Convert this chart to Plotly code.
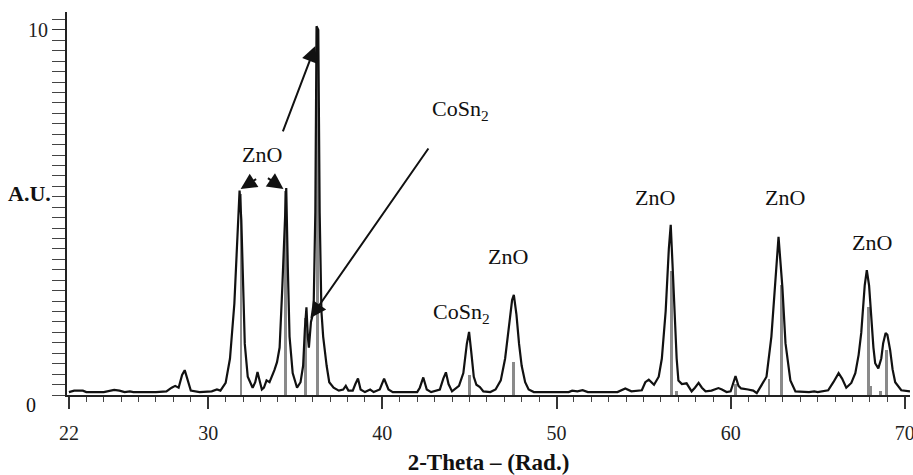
import plotly.graph_objects as go

# ---- data ----
two_theta = [22.0, 22.3, 22.8, 23.0, 24.0, 24.6, 24.9, 25.2, 25.5, 25.7, 27.0, 27.6, 27.9, 28.1, 28.3,
             28.5, 28.65, 28.8, 29.0, 29.5, 30.2, 30.5, 30.7, 31.0, 31.25, 31.5, 31.7, 31.8, 31.9, 32.0,
             32.1, 32.27, 32.55, 32.7, 32.83, 32.95, 33.08, 33.2, 33.35, 33.52, 33.65, 33.8, 33.95, 34.1,
             34.25, 34.4, 34.48, 34.57, 34.67, 34.85, 35.1, 35.3, 35.45, 35.55, 35.64, 35.72, 35.78, 35.9,
             36.05, 36.15, 36.22, 36.32, 36.4, 36.5, 36.6, 36.8, 36.95, 37.2, 37.5, 37.75, 37.9, 38.05,
             38.3, 38.45, 38.6, 38.75, 39.0, 39.3, 39.5, 39.85, 40.1, 40.35, 40.6, 42.0, 42.15, 42.35,
             42.55, 42.8, 43.3, 43.5, 43.65, 43.8, 44.0, 44.4, 44.65, 44.85, 44.98, 45.1, 45.25, 45.4,
             45.6, 45.8, 46.2, 46.5, 46.8, 47.05, 47.25, 47.45, 47.55, 47.7, 47.85, 48.0, 48.2, 48.4,
             48.7, 50.7, 50.9, 51.2, 51.5, 51.8, 53.5, 53.95, 54.3, 54.9, 55.1, 55.3, 55.6, 55.87, 56.05,
             56.27, 56.45, 56.56, 56.66, 56.78, 56.9, 57.0, 57.2, 57.47, 57.76, 57.95, 58.16, 58.35,
             58.56, 58.9, 59.3, 59.5, 59.77, 60.0, 60.15, 60.28, 60.45, 60.6, 61.0, 61.3, 61.5, 61.77,
             62.06, 62.34, 62.57, 62.75, 62.97, 63.15, 63.43, 63.72, 64.5, 64.8, 65.0, 65.6, 65.9, 66.2,
             66.4, 66.64, 66.93, 67.16, 67.35, 67.5, 67.7, 67.82, 67.95, 68.07, 68.2, 68.3, 68.48,
             68.65, 68.76, 68.9, 69.0, 69.16, 69.3, 69.45, 69.8, 70.3]
intensity = [0.08, 0.12, 0.12, 0.08, 0.08, 0.14, 0.12, 0.08, 0.1, 0.08, 0.08, 0.1, 0.2, 0.25, 0.2,
             0.55, 0.68, 0.45, 0.12, 0.08, 0.1, 0.15, 0.12, 0.33, 1.0, 2.5, 4.8, 5.6, 4.8, 3.0,
             1.4, 0.5, 0.2, 0.35, 0.63, 0.4, 0.15, 0.2, 0.4, 0.35, 0.5, 0.68, 0.9, 1.3,
             2.9, 5.0, 5.67, 3.5, 1.6, 0.6, 0.2, 0.35, 0.8, 1.8, 2.4, 1.6, 1.3, 2.0,
             2.3, 5.0, 10.1, 10.0, 5.0, 2.3, 1.6, 0.8, 0.35, 0.2, 0.12, 0.15, 0.25, 0.12,
             0.12, 0.3, 0.45, 0.15, 0.08, 0.15, 0.08, 0.15, 0.45, 0.15, 0.08, 0.08, 0.2, 0.48,
             0.15, 0.08, 0.15, 0.45, 0.62, 0.3, 0.1, 0.25, 0.6, 1.4, 1.73, 1.2, 0.5, 0.28,
             0.22, 0.1, 0.08, 0.15, 0.4, 1.0, 1.8, 2.6, 2.74, 2.2, 1.4, 0.8, 0.35, 0.15,
             0.08, 0.08, 0.12, 0.1, 0.13, 0.08, 0.08, 0.18, 0.1, 0.13, 0.35, 0.42, 0.28, 0.5, 1.0,
             2.3, 4.0, 4.66, 3.6, 2.3, 1.0, 0.4, 0.3, 0.32, 0.1, 0.2, 0.33, 0.2,
             0.1, 0.12, 0.19, 0.15, 0.08, 0.1, 0.3, 0.52, 0.25, 0.18, 0.15, 0.12, 0.05, 0.27,
             0.5, 1.6, 3.2, 4.33, 2.96, 1.42, 0.4, 0.1, 0.08, 0.1, 0.08, 0.13, 0.35, 0.6,
             0.45, 0.2, 0.33, 0.6, 1.1, 1.7, 3.0, 3.42, 3.0, 2.15, 1.3, 0.87, 0.73,
             1.0, 1.42, 1.7, 1.65, 1.23, 0.7, 0.35, 0.13, 0.1]

# reference pattern sticks
stick_pos = [31.88, 34.45, 35.6, 36.28, 45.0, 47.55, 56.62, 56.9, 60.3, 62.2, 62.9, 67.93, 68.05, 68.6, 68.97]
stick_h = [5.5, 5.6, 2.1, 10.0, 0.55, 0.9, 3.4, 0.1, 0.3, 0.45, 3.0, 2.4, 0.25, 0.1, 1.23]

x_ticks = [22, 30, 40, 50, 60, 70]
x_mid_ticks = [25, 35, 45, 55, 65]

# phase labels: (text, x, y)
labels = [("ZnO", 33.06, 6.58), ("CoSn<sub>2</sub>", 44.46, 7.81), ("CoSn<sub>2</sub>", 44.52, 2.25),
          ("ZnO", 47.22, 3.78), ("ZnO", 55.64, 5.40), ("ZnO", 63.15, 5.40), ("ZnO", 68.13, 4.19)]
# arrows: tip x, tip y, tail offset px (ax, ay)
arrows = [(31.86, 5.64, 17, -11), (34.32, 5.64, -17, -12), (36.15, 9.56, -33, 87), (35.87, 2.11, 119, -171)]

FONT = "Liberation Serif, Times New Roman, serif"
XR = [21.89, 70.3]

fig = go.Figure()
fig.add_trace(go.Bar(x=stick_pos, y=stick_h, width=0.16, marker=dict(color="#8a8a8a", line=dict(width=0)),
                     showlegend=False))
fig.add_trace(go.Scatter(x=two_theta, y=intensity, mode="lines", line=dict(color="#111111", width=2.2),
                         showlegend=False))

for t, x, y in labels:
    fig.add_annotation(x=x, y=y, text=t, showarrow=False, font=dict(family=FONT, size=22, color="#111"))
for x, y, ax, ay in arrows:
    fig.add_annotation(x=x, y=y, ax=ax, ay=ay, text="", showarrow=True, arrowhead=2, arrowsize=1.6,
                       arrowwidth=2, arrowcolor="#111")

fig.add_annotation(xref="paper", yref="y", x=-0.044, y=5.53, xanchor="center", yanchor="middle",
                   text="<b>A.U.</b>", showarrow=False, font=dict(family=FONT, size=22, color="#111"))
fig.add_annotation(xref="paper", yref="paper", x=-0.043, y=-0.026, xanchor="center", yanchor="middle",
                   text="0", showarrow=False, font=dict(family=FONT, size=20, color="#111"))

fig.update_layout(
    width=913, height=475,
    margin=dict(l=67, r=3, t=12, b=80),
    paper_bgcolor="white", plot_bgcolor="white",
    font=dict(family=FONT, color="#111"),
    xaxis=dict(range=XR, showline=True, linecolor="#222", linewidth=2, showgrid=False, zeroline=False,
               ticks="outside", tickvals=x_ticks, ticklen=12, tickwidth=1.5, tickcolor="#333",
               minor=dict(dtick=1, tick0=0, ticklen=5, tickwidth=1.2, tickcolor="#444", ticks="outside"),
               tickfont=dict(family=FONT, size=20, color="#222"), ticklabelstandoff=7,
               ticklabeloverflow="allow",
               title=dict(text="<b>2-Theta – (Rad.)</b>", font=dict(family=FONT, size=23, color="#111"), standoff=11),
               automargin=False),
    xaxis2=dict(range=XR, overlaying="x", anchor="y", side="bottom", showline=False, showgrid=False,
                zeroline=False, ticks="outside", tickvals=x_mid_ticks, ticklen=8, tickwidth=1.3,
                tickcolor="#333", showticklabels=False),
    yaxis=dict(range=[0, 10.49], showline=True, linecolor="#222", linewidth=2, showgrid=False, zeroline=False,
               ticks="outside", tickvals=[10], ticklen=13, tickwidth=1.3, tickcolor="#333",
               minor=dict(dtick=10 / 35, tick0=0, ticklen=13, tickwidth=1.3, tickcolor="#444", ticks="outside"),
               tickfont=dict(family=FONT, size=20, color="#222"), ticklabelstandoff=0, automargin=False),
    bargap=0,
)

fig.write_html("out.html", config={"displayModeBar": False},
               post_script="document.body.style.margin='0';")
